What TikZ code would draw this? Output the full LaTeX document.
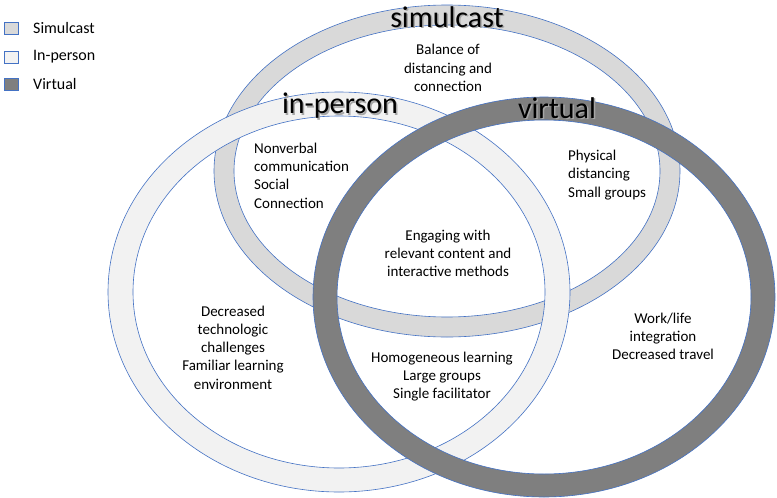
\documentclass[tikz,border=0pt]{standalone}
\usepackage{fontspec}
\setmainfont{Carlito}
\definecolor{simc}{HTML}{D9D9D9}
\definecolor{inpc}{HTML}{F2F2F2}
\definecolor{virc}{HTML}{7F7F7F}
\definecolor{edgec}{HTML}{4472C4}
\begin{document}
\begin{tikzpicture}[x=1pt,y=-1pt,
  body/.style={font=\fontsize{15}{18.3}\selectfont, inner sep=0pt, text=black},
  big/.style={font=\fontsize{30}{32}\selectfont, inner sep=0pt, text=black},
  bigshadow/.style={font=\fontsize{30}{32}\selectfont, inner sep=0pt, text=black!35},
  legtext/.style={font=\fontsize{16}{18}\selectfont, inner sep=0pt, anchor=west},
  legbox/.style={draw=edgec, line width=0.6pt, minimum width=14pt, minimum height=12pt, inner sep=0pt},
  ringedge/.style={draw=edgec, line width=0.6pt}
]
\useasboundingbox (0,0) rectangle (777,498);
\fill[white] (0,0) rectangle (777,498);

% simulcast ring
\coordinate (sc) at (447,171);
\fill[simc, even odd rule] (sc) ellipse [x radius=233pt, y radius=166pt]
  (sc) ellipse [x radius=213pt, y radius=146pt];
\draw[ringedge] (sc) ellipse [x radius=233pt, y radius=166pt];
\draw[ringedge] (sc) ellipse [x radius=213pt, y radius=146pt];

% in-person ring
\coordinate (ic) at (339,292);
\fill[inpc, even odd rule] (ic) ellipse [x radius=231pt, y radius=200pt]
  (ic) ellipse [x radius=206pt, y radius=176pt];
\draw[ringedge] (ic) ellipse [x radius=231pt, y radius=200pt];
\draw[ringedge] (ic) ellipse [x radius=206pt, y radius=176pt];

% virtual ring
\coordinate (vc) at (544,297);
\fill[virc, even odd rule] (vc) ellipse [x radius=231pt, y radius=200pt]
  (vc) ellipse [x radius=207pt, y radius=177pt];
\draw[ringedge] (vc) ellipse [x radius=231pt, y radius=200pt];
\draw[ringedge] (vc) ellipse [x radius=207pt, y radius=177pt];

% ring labels
\node[bigshadow] at (448.5,18.5) {simulcast};
\node[big] (lsim) at (447,17) {simulcast};
\node[bigshadow] at (341.5,107.5) {in-person};
\node[big] (linp) at (340,106) {in-person};
\node[bigshadow] at (558.5,109.5) {virtual};
\node[big] (lvir) at (557,108) {virtual};

% region texts
\node[body, align=center] (bal) at (448,68) {Balance of\\distancing and\\connection};
\node[body, align=left, anchor=west] (nonv) at (254,175.5) {Nonverbal\\communication\\Social\\Connection};
\node[body, align=left, anchor=west] (phys) at (568,175) {Physical\\distancing\\Small groups};
\node[body, align=center] (eng) at (448,253.5) {Engaging with\\relevant content and\\interactive methods};
\node[body, align=center] (dec) at (233,347.5) {Decreased\\technologic\\challenges\\Familiar learning\\environment};
\node[body, align=center] (hom) at (442,376.5) {Homogeneous learning\\Large groups\\Single facilitator};
\node[body, align=center] (work) at (663,336.5) {Work/life\\integration\\Decreased travel};

% legend
\node[legbox, fill=simc] (k1) at (11,28) {};
\node[legtext] (t1) at (33,28) {Simulcast};
\node[legbox, fill=inpc] (k2) at (11,57) {};
\node[legtext] (t2) at (33,57) {In-person};
\node[legbox, fill=virc] (k3) at (11,84.5) {};
\node[legtext] (t3) at (33,84.5) {Virtual};
\end{tikzpicture}
\end{document}
